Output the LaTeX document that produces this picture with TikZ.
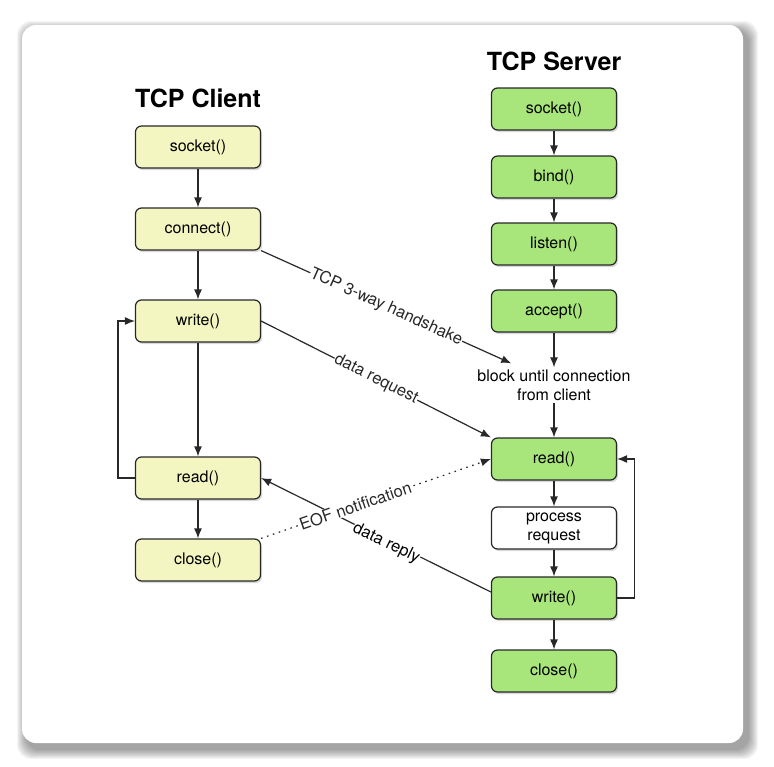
\documentclass[tikz,border=0pt]{standalone}
\usepackage{fontspec}
\setmainfont{TeX Gyre Heros}
\usepackage{tikz}
\usetikzlibrary{arrows.meta, positioning, calc, shadows}
\definecolor{cliyellow}{RGB}{243,246,192}
\definecolor{srvgreen}{RGB}{168,230,124}
\definecolor{mydark}{RGB}{40,40,40}
\tikzset{
  cbox/.style={rectangle, draw=mydark, fill=cliyellow,
    minimum width=125pt, minimum height=42pt, align=center,
    font=\fontsize{16}{19}\selectfont, rounded corners=6pt, line width=1.2pt,
    drop shadow={shadow xshift=1.5pt, shadow yshift=-2pt, opacity=0.3}},
  sbox/.style={cbox, fill=srvgreen},
  plaintext/.style={align=center, inner sep=2pt, font=\fontsize{16}{19}\selectfont},
  heading/.style={font=\fontsize{25}{30}\selectfont\bfseries},
  lbl/.style={fill=white, inner sep=0.5pt, font=\fontsize{16.5}{20}\selectfont},
  arrow/.style={-{Latex[length=10pt,width=8pt]}, line width=1.2pt, color=mydark},
  dotline/.style={arrow, dash pattern=on 1.6pt off 4.6pt}
}

\begin{document}
\begin{tikzpicture}[x=1pt, y=-1pt]
  \useasboundingbox (0,0) rectangle (774,766);
  % card with soft shadow
  \foreach \s in {0,...,9}
    \fill[black, opacity=0.045, rounded corners=14pt]
      (26-\s,30-\s) rectangle (749+\s,750+\s);
  \fill[white, rounded corners=14pt] (22,25) rectangle (743,743);

  % headings
  \node[heading] (chead) at (198,98) {TCP Client};
  \node[heading] (shead) at (554,61) {TCP Server};

  % client column
  \node[cbox] (csock)  at (198,147) {socket()};
  \node[cbox] (cconn)  at (198,229) {connect()};
  \node[cbox] (cwrite) at (198,321) {write()};
  \node[cbox] (cread)  at (198,478) {read()};
  \node[cbox] (cclose) at (198,560) {close()};

  % server column
  \node[sbox] (ssock)   at (554,109) {socket()};
  \node[sbox] (sbind)   at (554,177) {bind()};
  \node[sbox] (slisten) at (554,244) {listen()};
  \node[sbox] (saccept) at (554,311) {accept()};
  \node[plaintext] (block) at (554,385) {block until connection\\from client};
  \node[sbox] (sread)   at (554,459) {read()};
  \node[sbox, fill=white] (sproc) at (554,528) {process\\request};
  \node[sbox] (swrite)  at (554,598) {write()};
  \node[sbox] (sclose)  at (554,671) {close()};

  % client flow
  \draw[arrow] (csock) -- (cconn);
  \draw[arrow] (cconn) -- (cwrite);
  \draw[arrow] (cwrite) -- (cread);
  \draw[arrow] (cread) -- (cclose);
  \draw[arrow] (cread.west) -- ++(-17,0) |- (cwrite.west);

  % server flow
  \draw[arrow] (ssock) -- (sbind);
  \draw[arrow] (sbind) -- (slisten);
  \draw[arrow] (slisten) -- (saccept);
  \draw[arrow] (saccept) -- (block);
  \draw[arrow] (block) -- (sread);
  \draw[arrow] (sread) -- (sproc);
  \draw[arrow] (sproc) -- (swrite);
  \draw[arrow] (swrite) -- (sclose);
  \draw[arrow] (swrite.east) -- ++(17,0) |- (sread.east);

  % messages between the two sides
  \draw[arrow] (cconn.south east) -- node[lbl, sloped] {TCP 3-way handshake}
    ([xshift=36pt,yshift=4pt]block.north west);
  \draw[arrow] (cwrite.east) -- node[lbl, sloped] {data request} (sread.north west);
  \draw[arrow] ([yshift=6pt]swrite.west) -- (cread.east);
  \path ([yshift=6pt]swrite.west) -- node[lbl, sloped, pos=0.45, yshift=-3pt] {data reply} (cread.east);
  \draw[dotline] (cclose.north east) -- node[lbl, sloped, pos=0.41] {EOF notification} (sread.west);
\end{tikzpicture}
\end{document}
